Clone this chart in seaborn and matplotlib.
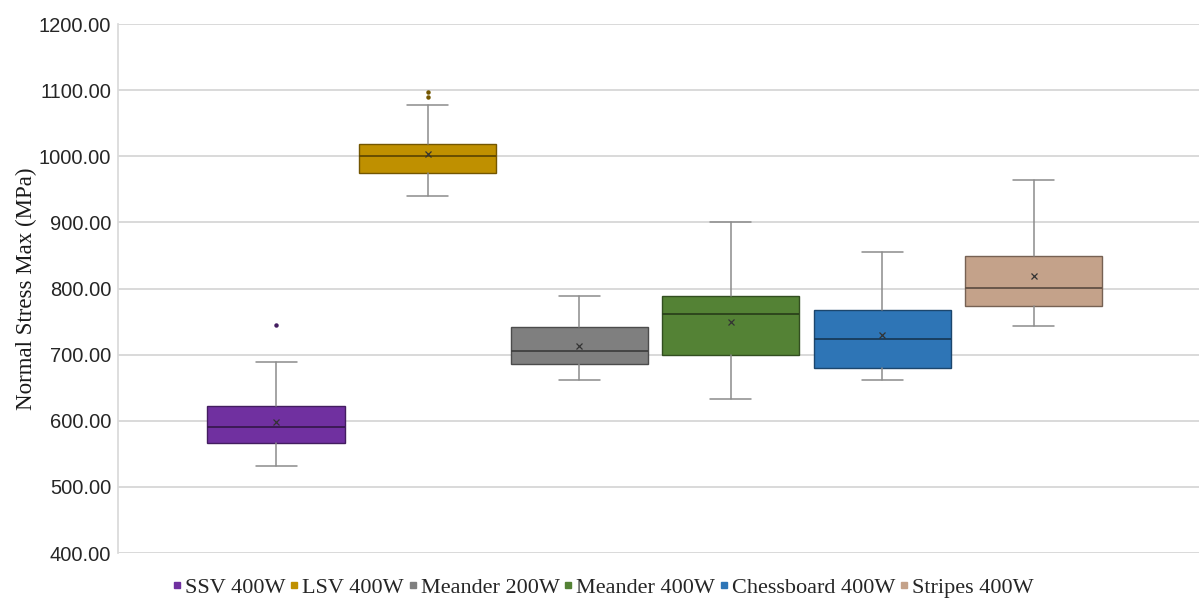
import matplotlib
matplotlib.use("Agg")
import matplotlib.pyplot as plt
import matplotlib.colors as mcolors
from matplotlib.lines import Line2D
import seaborn as sns

# summary statistics (MPa)
groups = ["SSV 400W", "LSV 400W", "Meander 200W", "Meander 400W", "Chessboard 400W", "Stripes 400W"]
whisker_low = [531, 940, 662, 633, 662, 744]
q1 = [566, 974, 686, 699, 680, 774]
medians = [590, 1000, 705, 762, 724, 801]
q3 = [623, 1018, 742, 788, 767, 849]
whisker_high = [689, 1077, 788, 900, 855, 964]
means = [598, 1003, 713, 749, 730, 819]
outliers = [[745], [1089, 1097], [], [], [], []]

colors = ["#7030A0", "#BF9000", "#7F7F7F", "#548235", "#2E75B6", "#C4A28A"]

sns.set_theme(style="white")
plt.rcParams["font.family"] = ["Liberation Sans", "DejaVu Sans"]

fig = plt.figure(figsize=(11.99, 6.04), dpi=100)
ax = fig.add_axes([0.0984, 0.0844, 0.9016, 0.8758])

stats = []
for i, name in enumerate(groups):
    stats.append({
        "label": name,
        "whislo": whisker_low[i],
        "q1": q1[i],
        "med": medians[i],
        "q3": q3[i],
        "whishi": whisker_high[i],
        "mean": means[i],
        "fliers": outliers[i],
    })

positions = list(range(len(groups)))
arts = ax.bxp(stats, positions=positions, widths=0.905, capwidths=0.27,
              patch_artist=True, showmeans=True, manage_ticks=False,
              whiskerprops=dict(color="#8c8c8c", linewidth=1.1),
              capprops=dict(color="#8c8c8c", linewidth=1.1),
              medianprops=dict(linewidth=1.3),
              meanprops=dict(marker="x", markersize=4, markeredgewidth=0.9),
              flierprops=dict(marker="o", markersize=2.2))

for i, c in enumerate(colors):
    dark = tuple(v * 0.6 for v in mcolors.to_rgb(c))
    arts["boxes"][i].set_facecolor(c)
    arts["boxes"][i].set_edgecolor(dark)
    arts["boxes"][i].set_linewidth(1.0)
    arts["medians"][i].set_color(tuple(v * 0.5 for v in mcolors.to_rgb(c)))
    arts["means"][i].set_markeredgecolor("#333333")
    arts["means"][i].set_markerfacecolor("#333333")
    arts["fliers"][i].set_markerfacecolor(dark)
    arts["fliers"][i].set_markeredgecolor(dark)

ax.set_xlim(-1.043, 6.09)
ax.set_ylim(400, 1200)
ax.set_yticks(range(400, 1201, 100))
ax.set_yticklabels([f"{v:.2f}" for v in range(400, 1201, 100)], fontsize=14.5, color="#262626")
ax.set_xticks([])
ax.yaxis.grid(True, color="#d0d0d0", linewidth=1.1)
ax.set_axisbelow(True)
ax.tick_params(axis="y", length=0, pad=5)
for side in ["top", "right", "bottom"]:
    ax.spines[side].set_visible(False)
ax.spines["left"].set_color("#d9d9d9")

ax.set_ylabel("Normal Stress Max (MPa)", fontsize=16.5, family=["Liberation Serif"], color="#1a1a1a", labelpad=1)

handles = [Line2D([], [], linestyle="none", marker="s", markersize=3.8, color=c) for c in colors]
fig.legend(handles, groups, loc="center", bbox_to_anchor=(0.503, 0.027), ncol=6, frameon=False,
           prop={"family": "Liberation Serif", "size": 16}, handletextpad=0.15,
           columnspacing=0.2, handlelength=0.4, borderpad=0.1)

fig.savefig("out.png", dpi=100)
